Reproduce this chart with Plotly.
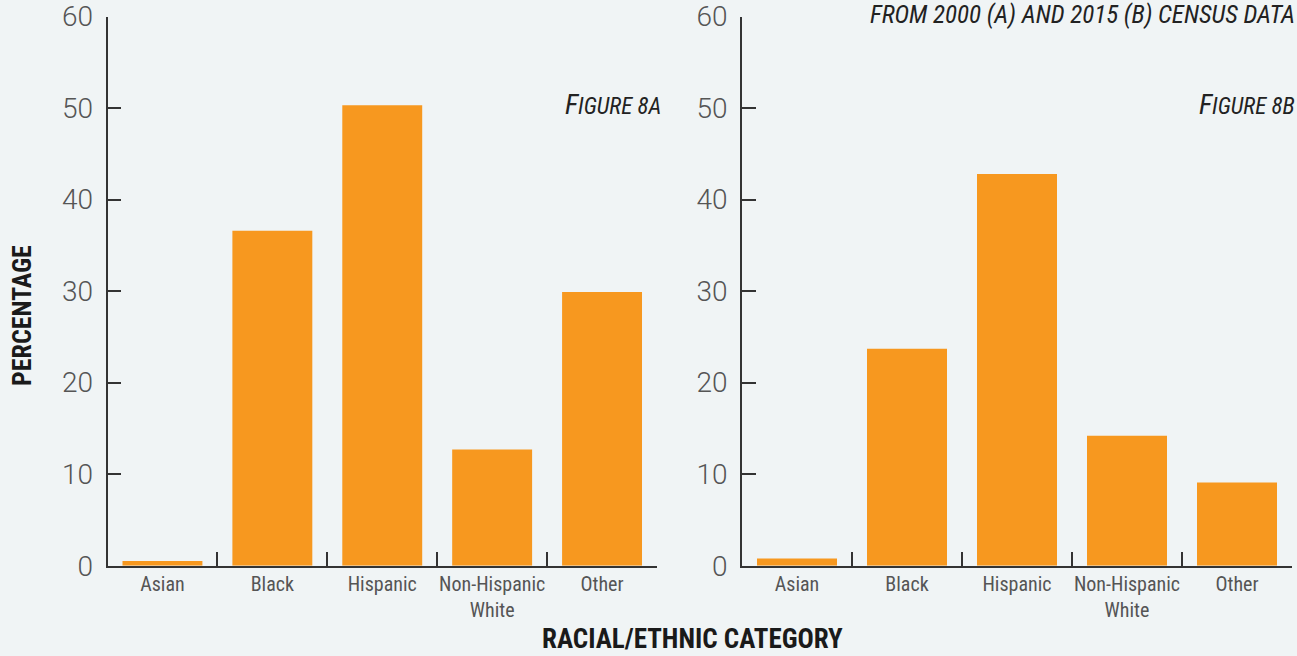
import plotly.graph_objects as go

categories = ["Asian", "Black", "Hispanic", "Non-Hispanic<br>White", "Other"]
values_2000 = [0.5, 36.6, 50.3, 12.7, 29.9]
values_2015 = [0.8, 23.7, 42.8, 14.2, 9.1]
y_ticks = [0, 10, 20, 30, 40, 50, 60]

BAR = "#F7981F"
BG = "#F0F4F5"
AX = "#333333"
NARROW = "Liberation Sans Narrow, Roboto Condensed, Roboto, Arial Narrow, sans-serif"

fig = go.Figure()
fig.add_trace(go.Bar(x=categories, y=values_2000, marker=dict(color=BAR, line=dict(width=0)),
                     xaxis="x", yaxis="y", showlegend=False))
fig.add_trace(go.Bar(x=categories, y=values_2015, marker=dict(color=BAR, line=dict(width=0)),
                     xaxis="x2", yaxis="y2", showlegend=False))

W, H = 1297, 656
y_dom = [(H - 565.7) / H, (H - 16.5) / H]

def xax(dom, anchor):
    return dict(domain=dom, anchor=anchor, showline=True, linecolor=AX, linewidth=1.5,
                ticks="inside", tickson="boundaries", ticklen=14, tickcolor=AX, tickwidth=1.5,
                showgrid=False, zeroline=False, automargin=False, tickangle=0,
                tickfont=dict(family=NARROW, size=20, color="#555555"),
                fixedrange=True)

def yax(dom, anchor):
    return dict(domain=dom, anchor=anchor, range=[0, 60], tickvals=y_ticks,
                showline=True, linecolor=AX, linewidth=1.5,
                ticks="inside", ticklen=14, tickcolor=AX, tickwidth=1.5,
                showgrid=False, zeroline=False, ticklabelstandoff=7, automargin=False,
                tickfont=dict(family="Roboto", size=28, color="#555555", weight=300),
                fixedrange=True)

fig.update_layout(
    width=W, height=H,
    margin=dict(l=0, r=0, t=0, b=0, pad=0),
    paper_bgcolor=BG, plot_bgcolor=BG,
    bargap=30 / 110,
    xaxis=xax([107.5 / W, 657 / W], "y"),
    yaxis=yax(y_dom, "x"),
    xaxis2=xax([742 / W, 1292 / W], "y2"),
    yaxis2=yax(y_dom, "x2"),
)

def sc(word_first, rest):
    return f"<i>{word_first}<span style='font-size:23px'>{rest}</span></i>"

ann = [
    dict(x=22 / W, y=(H - 316) / H, text="<b>PERCENTAGE</b>", textangle=-90,
         font=dict(family=NARROW, size=26, color="#1a1a1a"), xanchor="center", yanchor="middle"),
    dict(x=692 / W, y=(H - 639) / H, text="<b>RACIAL/ETHNIC CATEGORY</b>",
         font=dict(family=NARROW, size=27, color="#1a1a1a"), xanchor="center", yanchor="middle"),
    dict(x=663 / W, y=(H - 104) / H, text=sc("F", "IGURE 8A"),
         font=dict(family=NARROW, size=28, color="#222222"), xanchor="right", yanchor="middle"),
    dict(x=1297 / W, y=(H - 104) / H, text=sc("F", "IGURE 8B"),
         font=dict(family=NARROW, size=28, color="#222222"), xanchor="right", yanchor="middle"),
    dict(x=1297 / W, y=(H - 15) / H,
         text="<i>FROM 2000 (A) AND 2015 (B) CENSUS DATA</i>",
         font=dict(family=NARROW, size=25, color="#222222"), xanchor="right", yanchor="middle"),
]
for a in ann:
    a.update(xref="paper", yref="paper", showarrow=False)
fig.update_layout(annotations=ann)

fig.write_html("out.html", config={"displayModeBar": False},
               post_script="document.body.style.margin='0';document.body.style.overflow='hidden';")
